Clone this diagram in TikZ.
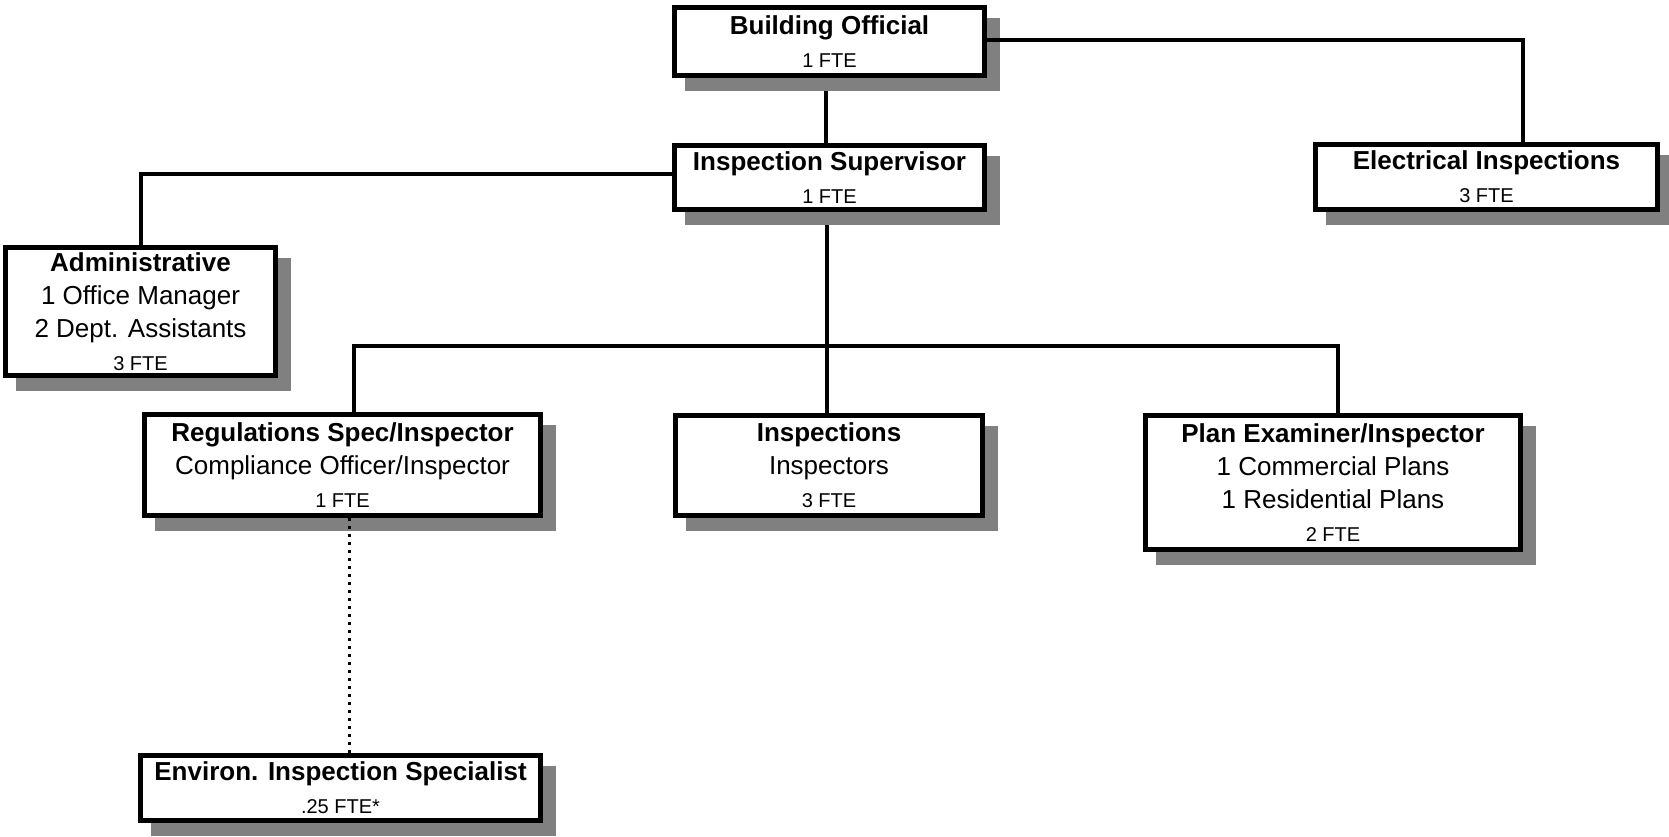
\documentclass[tikz,border=0pt]{standalone}
\usepackage{fontspec}
\setmainfont{Liberation Sans}
\pgfdeclarelayer{bg}
\pgfsetlayers{bg,main}
\definecolor{shadowgray}{HTML}{808080}
\tikzset{
  orgbox/.style={draw, line width=5pt, fill=white, inner sep=0pt, align=center,
    font=\fontsize{26}{33}\selectfont},
  link/.style={line width=4pt},
  dotlink/.style={line width=3pt, dash pattern=on 3pt off 5pt},
  shadowfill/.style={fill=shadowgray},
}
\newcommand{\fte}[1]{{\fontsize{20}{33}\selectfont #1}}
\begin{document}
\begin{tikzpicture}[x=1pt,y=-1pt]
\useasboundingbox (0,0) rectangle (1669,836);

\node[orgbox, minimum width=310, minimum height=68] (bo) at (829.5,41.5)
  {\textbf{Building Official}\\\fte{1 FTE}};
\node[orgbox, minimum width=310, minimum height=64] (is) at (829.5,177.5)
  {\textbf{Inspection Supervisor}\\\fte{1 FTE}};
\node[orgbox, minimum width=342, minimum height=65] (ei) at (1486.5,177)
  {\textbf{Electrical Inspections}\\\fte{3 FTE}};
\node[orgbox, minimum width=270, minimum height=128] (ad) at (140.5,311.5)
  {\textbf{Administrative}\\1 Office Manager\\2 Dept. Assistants\\\fte{3 FTE}};
\node[orgbox, minimum width=396, minimum height=101] (rs) at (342.5,465)
  {\textbf{Regulations Spec/Inspector}\\Compliance Officer/Inspector\\\fte{1 FTE}};
\node[orgbox, minimum width=307, minimum height=100] (insp) at (829,465.5)
  {\textbf{Inspections}\\Inspectors\\\fte{3 FTE}};
\node[orgbox, minimum width=375, minimum height=134] (pe) at (1333,482.5)
  {\textbf{Plan Examiner/Inspector}\\1 Commercial Plans\\1 Residential Plans\\\fte{2 FTE}};
\node[orgbox, minimum width=400, minimum height=65] (en) at (340.5,788)
  {\textbf{Environ. Inspection Specialist}\\\fte{.25 FTE*}};

\coordinate (bus) at (830,346);

\begin{pgfonlayer}{bg}
  \draw[link] ([xshift=-4]bo.south) -- ([xshift=-4]is.north);
  \draw[link] ([yshift=4]is.west) -| (ad.north);
  \draw[link] ([xshift=-2.5]is.south) -- ([xshift=-2.5]is.south |- insp.north);
  \draw[link] ([xshift=11]rs.north) |- (bus) -| ([xshift=5]pe.north);
  \foreach \n in {bo,is,ei,ad,rs,insp,pe,en}
    \fill[shadowfill] ([shift={(13,13)}]\n.north west) rectangle ([shift={(13,13)}]\n.south east);
\end{pgfonlayer}

\draw[link] ([yshift=2]bo.east) -| ([xshift=36]ei.north);
\draw[dotlink] ([xshift=7]rs.south) -- ([xshift=7]rs.south |- en.north);
\end{tikzpicture}
\end{document}
